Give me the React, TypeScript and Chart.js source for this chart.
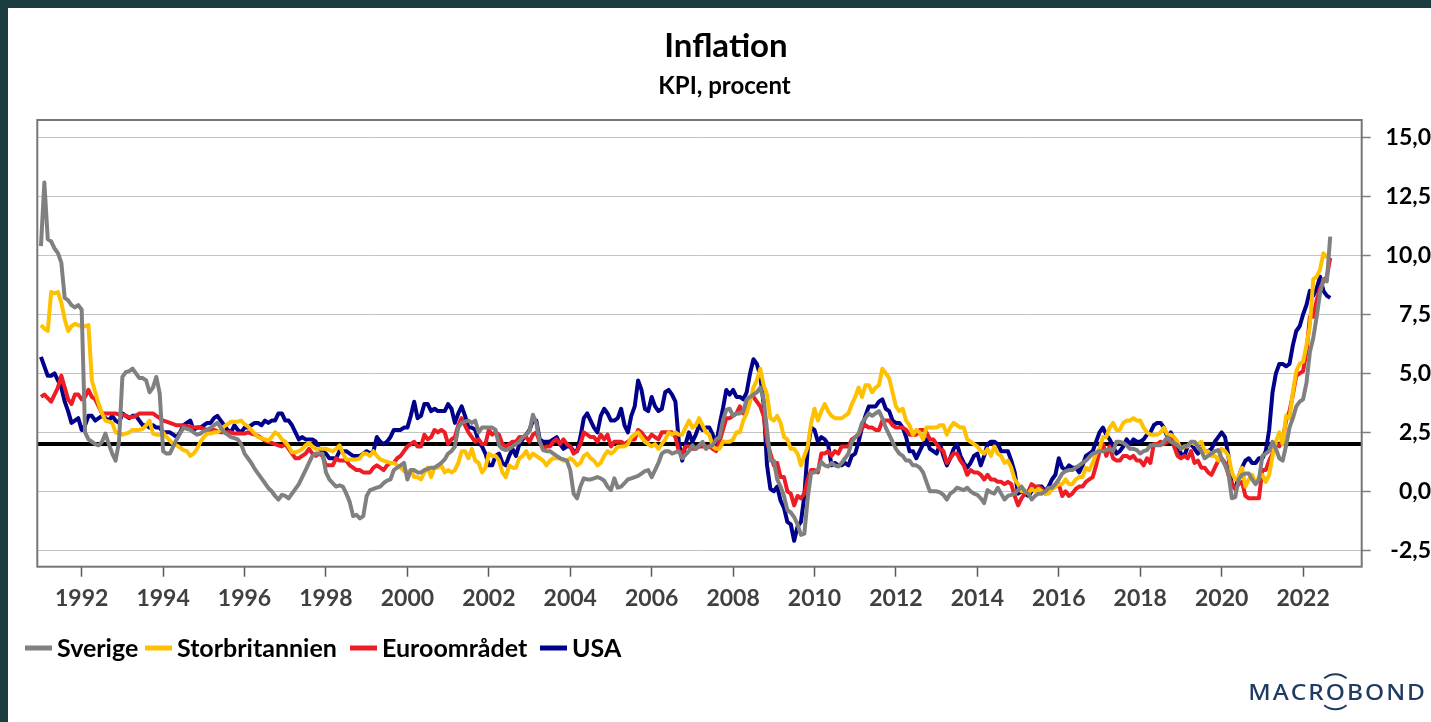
import React, { useEffect, useRef } from "react";
import { Chart, registerables } from "chart.js";

Chart.register(...registerables);

// ---------- Texts ----------
const TITLE = "Inflation";
const SUBTITLE = "KPI, procent";
const LOGO = "MACROBOND";
const SERIES_LABELS = ["Sverige", "Storbritannien", "Euroområdet", "USA"];
const SERIES_COLORS = ["#808080", "#ffc000", "#ee1c25", "#00008b"];

// ---------- Axes ----------
const START_YEAR = 1991; // first monthly observation: Jan 1991
const X_MIN = 1990.91;
const X_MAX = 2023.44;
const Y_MIN = -3.2;
const Y_MAX = 15.75;
const TARGET_LEVEL = 2.0;
const X_TICK_YEARS = [1992, 1994, 1996, 1998, 2000, 2002, 2004, 2006, 2008, 2010, 2012, 2014, 2016, 2018, 2020, 2022];
const Y_TICK_VALUES = [-2.5, 0, 2.5, 5, 7.5, 10, 12.5, 15];

// ---------- Data (monthly, y/y %, Jan 1991 onwards) ----------
const sverige = [
  10.4, 13.1, 10.7, 10.6, 10.3, 10.1, 9.7, 8.2, 8.1, 7.9, 7.8, 7.9,
  7.7, 2.5, 2.2, 2.1, 2.0, 1.95, 2.1, 2.45, 2.0, 1.6, 1.3, 2.1,
  4.85, 5.05, 5.1, 5.2, 5.0, 4.8, 4.8, 4.7, 4.2, 4.4, 4.85, 4.15,
  1.7, 1.6, 1.6, 1.9, 2.2, 2.45, 2.7, 2.65, 2.6, 2.5, 2.4, 2.45,
  2.55, 2.6, 2.7, 2.8, 2.9, 2.7, 2.5, 2.4, 2.3, 2.25, 2.2, 2.0,
  1.6, 1.4, 1.2, 0.95, 0.75, 0.55, 0.35, 0.14, 0.0, -0.2, -0.35, -0.15,
  -0.2, -0.3, -0.1, 0.1, 0.3, 0.6, 0.9, 1.2, 1.5, 1.6, 1.6, 1.6,
  0.8, 0.5, 0.35, 0.2, 0.25, 0.2, -0.1, -0.45, -1.05, -1.0, -1.15, -1.05,
  -0.2, 0.05, 0.1, 0.15, 0.2, 0.35, 0.45, 0.5, 0.9, 1.0, 1.1, 1.2,
  0.5, 0.9, 0.9, 0.8, 0.8, 0.9, 0.95, 1.0, 1.0, 1.1, 1.2, 1.35,
  1.6, 1.7, 1.9, 2.7, 2.9, 2.95, 3.0, 2.9, 3.0, 2.5, 2.7, 2.7,
  2.7, 2.7, 2.6, 1.95, 1.8, 1.75, 1.8, 1.9, 2.0, 2.1, 2.3, 2.4,
  2.55, 3.25, 2.9, 2.1, 1.75, 1.7, 1.7, 1.6, 1.5, 1.4, 1.35, 1.3,
  0.9, -0.1, -0.3, 0.2, 0.55, 0.5, 0.5, 0.55, 0.6, 0.55, 0.45, 0.2,
  0.05, 0.55, 0.15, 0.2, 0.35, 0.5, 0.55, 0.6, 0.65, 0.75, 0.85, 0.9,
  0.6, 0.9, 1.2, 1.6, 1.7, 1.7, 1.6, 1.65, 1.7, 1.4, 1.55, 1.7,
  1.95, 1.8, 1.95, 2.1, 1.8, 1.9, 1.95, 2.2, 2.3, 3.0, 3.45, 3.5,
  3.2, 3.3, 3.3, 3.4, 3.9, 4.0, 4.1, 4.2, 4.4, 3.9, 2.6, 1.3,
  1.3, 0.5, 0.2, -0.2, -0.8, -0.9, -1.1, -1.4, -1.85, -1.8, -0.3, 0.8,
  0.8, 0.9, 1.25, 1.1, 1.05, 1.2, 1.1, 1.05, 1.2, 1.4, 1.6, 2.1,
  2.3, 2.45, 2.9, 3.1, 3.3, 3.2, 3.3, 3.4, 3.1, 2.7, 2.4, 2.1,
  1.8, 1.6, 1.5, 1.3, 1.3, 1.1, 1.1, 1.0, 0.8, 0.4, 0.0, 0.0,
  0.0, -0.05, -0.15, -0.35, -0.1, 0.0, 0.15, 0.1, 0.05, 0.15, 0.0, -0.1,
  -0.15, -0.3, -0.5, 0.05, -0.05, -0.1, 0.15, -0.1, -0.35, -0.2, -0.15, -0.1,
  0.05, 0.2, 0.0, -0.1, -0.35, -0.2, -0.1, -0.1, 0.0, 0.15, 0.15, 0.3,
  0.5, 0.75, 0.85, 0.9, 0.9, 1.0, 1.1, 1.2, 1.3, 1.45, 1.6, 1.65,
  1.7, 1.7, 1.75, 1.8, 1.7, 2.1, 2.1, 2.05, 1.95, 1.8, 1.8, 1.75,
  1.6, 1.7, 1.75, 1.95, 1.95, 1.95, 1.95, 2.1, 2.3, 2.1, 2.05, 1.95,
  1.8, 1.9, 1.95, 2.1, 2.1, 1.9, 1.7, 1.4, 1.5, 1.6, 1.7, 1.75,
  1.4, 1.1, 0.75, -0.3, -0.25, 0.5, 0.7, 0.75, 0.75, 0.5, 0.3, 0.5,
  1.5, 1.6, 1.7, 2.1, 1.8, 1.4, 1.3, 1.95, 2.7, 3.1, 3.6, 3.8,
  3.9, 4.6, 5.9, 6.5, 7.4, 8.4, 9.0, 8.9, 10.8,
];

const storbritannien = [
  7.05, 6.9, 6.8, 8.45, 8.4, 8.45, 8.0, 7.3, 6.8, 7.0, 7.1, 7.05,
  7.0, 7.0, 7.05, 4.7, 4.2, 3.7, 3.3, 3.0, 2.95, 2.9, 2.5, 2.45,
  2.4, 2.45, 2.5, 2.6, 2.6, 2.6, 2.65, 2.8, 3.0, 2.45, 2.4, 2.4,
  2.5, 2.3, 2.15, 2.0, 1.95, 1.85, 1.75, 1.7, 1.5, 1.6, 1.8, 2.1,
  2.3, 2.45, 2.45, 2.5, 2.5, 2.6, 2.75, 2.85, 2.95, 2.95, 2.95, 3.0,
  2.85, 2.75, 2.6, 2.45, 2.3, 2.25, 2.2, 2.15, 2.3, 2.5, 2.4, 2.2,
  2.1, 1.9, 1.65, 1.65, 1.7, 1.8, 1.95, 2.05, 1.9, 1.8, 1.8, 1.8,
  1.8, 1.75, 1.7, 1.8, 1.95, 1.6, 1.35, 1.35, 1.35, 1.35, 1.4, 1.6,
  1.6, 1.5, 1.7, 1.5, 1.35, 1.3, 1.25, 1.2, 1.2, 1.1, 1.0, 0.85,
  0.8, 0.9, 0.6, 0.6, 0.5, 0.8, 1.0, 0.6, 1.0, 1.0, 1.1, 0.8,
  0.9, 0.8, 0.9, 1.2, 1.7, 1.7, 1.4, 1.8, 1.3, 1.2, 0.8, 1.0,
  1.6, 1.5, 1.5, 1.3, 0.8, 0.6, 1.1, 1.0, 1.0, 1.4, 1.5, 1.7,
  1.4, 1.6, 1.5, 1.4, 1.3, 1.1, 1.3, 1.4, 1.4, 1.4, 1.3, 1.3,
  1.4, 1.3, 1.1, 1.2, 1.5, 1.6, 1.4, 1.3, 1.1, 1.2, 1.5, 1.7,
  1.6, 1.7, 1.9, 1.9, 1.9, 2.0, 2.3, 2.4, 2.5, 2.3, 2.1, 2.0,
  1.9, 2.0, 1.8, 2.0, 2.2, 2.5, 2.4, 2.5, 2.4, 2.4, 2.7, 3.0,
  2.7, 2.8, 3.1, 2.8, 2.5, 2.4, 1.9, 1.8, 1.8, 2.1, 2.1, 2.1,
  2.2, 2.5, 2.5, 3.0, 3.3, 3.8, 4.4, 4.7, 5.2, 4.5, 4.1, 3.1,
  3.0, 3.2, 2.9, 2.3, 2.2, 1.8, 1.8, 1.6, 1.1, 1.5, 1.9, 2.9,
  3.5, 3.0, 3.4, 3.7, 3.4, 3.2, 3.1, 3.1, 3.1, 3.2, 3.3, 3.7,
  4.0, 4.4, 4.0, 4.5, 4.5, 4.2, 4.4, 4.5, 5.2, 5.0, 4.8, 4.2,
  3.6, 3.4, 3.5, 3.0, 2.8, 2.4, 2.6, 2.5, 2.2, 2.7, 2.7, 2.7,
  2.7, 2.8, 2.8, 2.4, 2.7, 2.9, 2.8, 2.7, 2.7, 2.2, 2.1, 2.0,
  1.9, 1.7, 1.6, 1.8, 1.5, 1.9, 1.6, 1.5, 1.2, 1.3, 1.0, 0.5,
  0.3, 0.0, 0.0, -0.1, 0.1, 0.0, 0.1, 0.0, -0.1, -0.1, 0.1, 0.2,
  0.3, 0.3, 0.5, 0.3, 0.3, 0.5, 0.6, 0.6, 1.0, 0.9, 1.2, 1.6,
  1.8, 2.3, 2.3, 2.7, 2.9, 2.6, 2.6, 2.9, 3.0, 3.0, 3.1, 3.0,
  3.0, 2.7, 2.5, 2.4, 2.4, 2.4, 2.5, 2.7, 2.4, 2.4, 2.3, 2.1,
  1.8, 1.9, 1.9, 2.1, 2.0, 2.0, 2.1, 1.7, 1.7, 1.5, 1.5, 1.3,
  1.8, 1.7, 1.5, 0.8, 0.5, 0.6, 1.0, 0.2, 0.5, 0.7, 0.3, 0.6,
  0.7, 0.4, 0.7, 1.5, 2.1, 2.5, 2.0, 3.2, 3.1, 4.2, 5.1, 5.4,
  5.5, 6.2, 7.0, 9.0, 9.1, 9.4, 10.1, 9.9,
];

const euroomradet = [
  4.0, 4.1, 3.95, 3.8, 4.1, 4.4, 4.9, 4.4, 3.9, 3.7, 4.1, 4.1,
  3.9, 4.0, 4.3, 4.0, 3.9, 3.6, 3.3, 3.3, 3.3, 3.3, 3.3, 3.25,
  3.25, 3.2, 3.15, 3.15, 3.2, 3.3, 3.3, 3.3, 3.3, 3.3, 3.2, 3.1,
  3.0, 2.95, 2.9, 2.85, 2.8, 2.8, 2.8, 2.75, 2.75, 2.7, 2.7, 2.7,
  2.65, 2.6, 2.6, 2.6, 2.55, 2.5, 2.5, 2.5, 2.5, 2.45, 2.45, 2.45,
  2.45, 2.5, 2.45, 2.4, 2.35, 2.25, 2.15, 2.1, 2.05, 2.0, 1.95, 1.9,
  2.0, 1.8, 1.6, 1.4, 1.4, 1.5, 1.6, 1.8, 1.6, 1.5, 1.6, 1.5,
  1.1, 1.1, 1.1, 1.4, 1.3, 1.3, 1.3, 1.1, 1.0, 0.9, 0.9, 0.8,
  0.8, 0.8, 1.0, 1.1, 1.0, 0.9, 1.1, 1.2, 1.2, 1.4, 1.5, 1.7,
  1.9, 2.0, 2.1, 1.9, 1.9, 2.4, 2.2, 2.3, 2.6, 2.5, 2.6, 2.5,
  2.0, 2.2, 2.3, 2.8, 3.1, 2.8, 2.5, 2.3, 2.1, 2.2, 2.0, 2.0,
  2.6, 2.4, 2.5, 2.4, 2.0, 1.9, 2.0, 2.1, 2.1, 2.3, 2.3, 2.3,
  2.1, 2.4, 2.5, 2.1, 1.8, 1.9, 1.9, 2.1, 2.2, 2.0, 2.2, 2.0,
  1.9, 1.6, 1.7, 2.0, 2.5, 2.4, 2.3, 2.3, 2.1, 2.4, 2.2, 2.4,
  1.9, 2.1, 2.1, 2.1, 2.0, 2.1, 2.2, 2.2, 2.6, 2.5, 2.3, 2.2,
  2.4, 2.3, 2.2, 2.5, 2.5, 2.5, 2.5, 2.3, 1.7, 1.6, 1.9, 1.9,
  1.8, 1.8, 1.9, 1.9, 1.9, 1.9, 1.8, 1.7, 2.1, 2.6, 3.1, 3.1,
  3.2, 3.3, 3.6, 3.3, 3.7, 4.0, 4.0, 3.8, 3.6, 3.2, 2.1, 1.6,
  1.1, 1.2, 0.6, 0.6, 0.0, -0.1, -0.6, -0.2, -0.3, -0.1, 0.5, 0.9,
  0.9, 0.8, 1.6, 1.6, 1.7, 1.5, 1.7, 1.6, 1.9, 1.9, 1.9, 2.2,
  2.3, 2.4, 2.7, 2.8, 2.7, 2.7, 2.6, 2.6, 3.0, 3.0, 3.0, 2.8,
  2.7, 2.7, 2.7, 2.6, 2.4, 2.4, 2.4, 2.6, 2.6, 2.5, 2.2, 2.2,
  2.0, 1.8, 1.7, 1.2, 1.4, 1.6, 1.6, 1.3, 1.1, 0.7, 0.9, 0.8,
  0.8, 0.7, 0.5, 0.7, 0.5, 0.5, 0.4, 0.4, 0.3, 0.4, 0.3, -0.2,
  -0.6, -0.3, -0.1, 0.0, 0.3, 0.2, 0.2, 0.1, -0.1, 0.1, 0.1, 0.2,
  0.3, -0.2, 0.0, -0.2, -0.1, 0.1, 0.2, 0.2, 0.4, 0.5, 0.6, 1.1,
  1.7, 2.0, 1.5, 1.9, 1.4, 1.3, 1.3, 1.5, 1.5, 1.4, 1.5, 1.3,
  1.3, 1.1, 1.4, 1.2, 2.0, 2.0, 2.1, 2.0, 2.1, 2.3, 1.9, 1.5,
  1.4, 1.5, 1.4, 1.7, 1.2, 1.3, 1.0, 1.0, 0.8, 0.7, 1.0, 1.3,
  1.4, 1.2, 0.7, 0.3, 0.1, 0.3, 0.4, -0.2, -0.3, -0.3, -0.3, -0.3,
  0.9, 0.9, 1.3, 1.6, 2.0, 1.9, 2.2, 3.0, 3.4, 4.1, 4.9, 5.0,
  5.1, 5.9, 7.4, 7.4, 8.1, 8.6, 8.9, 9.1, 9.9,
];

const usa = [
  5.7, 5.3, 4.9, 4.9, 5.0, 4.7, 4.4, 3.8, 3.4, 2.9, 3.0, 3.1,
  2.6, 2.8, 3.2, 3.2, 3.0, 3.1, 3.2, 3.1, 3.0, 3.2, 3.0, 2.9,
  3.3, 3.2, 3.1, 3.2, 3.2, 3.0, 2.8, 2.8, 2.7, 2.8, 2.7, 2.7,
  2.5, 2.5, 2.5, 2.4, 2.3, 2.5, 2.8, 2.9, 3.0, 2.6, 2.7, 2.7,
  2.8, 2.9, 2.9, 3.1, 3.2, 3.0, 2.8, 2.6, 2.5, 2.8, 2.6, 2.5,
  2.7, 2.7, 2.8, 2.9, 2.9, 2.8, 3.0, 2.9, 3.0, 3.0, 3.3, 3.3,
  3.0, 3.0, 2.8, 2.5, 2.2, 2.3, 2.2, 2.2, 2.2, 2.1, 1.8, 1.7,
  1.6, 1.4, 1.4, 1.4, 1.7, 1.7, 1.7, 1.6, 1.5, 1.5, 1.5, 1.6,
  1.7, 1.6, 1.7, 2.3, 2.1, 2.0, 2.1, 2.3, 2.6, 2.6, 2.6, 2.7,
  2.7, 3.2, 3.8, 3.1, 3.2, 3.7, 3.7, 3.4, 3.5, 3.4, 3.4, 3.4,
  3.7, 3.5, 2.9, 3.3, 3.6, 3.2, 2.7, 2.7, 2.6, 2.1, 1.9, 1.6,
  1.1, 1.1, 1.5, 1.6, 1.2, 1.1, 1.5, 1.8, 1.5, 2.0, 2.2, 2.4,
  2.6, 3.0, 3.0, 2.2, 2.1, 2.1, 2.1, 2.2, 2.3, 2.0, 1.8, 1.9,
  1.9, 1.7, 1.7, 2.3, 3.1, 3.3, 3.0, 2.7, 2.5, 3.2, 3.5, 3.3,
  3.0, 3.0, 3.1, 3.5, 2.8, 2.5, 3.2, 3.6, 4.7, 4.3, 3.5, 3.4,
  4.0, 3.6, 3.4, 3.5, 4.2, 4.3, 4.1, 3.8, 2.1, 1.3, 2.0, 2.5,
  2.1, 2.4, 2.8, 2.6, 2.7, 2.7, 2.4, 2.0, 2.8, 3.5, 4.3, 4.1,
  4.3, 4.0, 4.0, 3.9, 4.2, 5.0, 5.6, 5.4, 4.9, 3.7, 1.1, 0.1,
  0.0, 0.2, -0.4, -0.7, -1.3, -1.4, -2.1, -1.5, -1.3, -0.2, 1.8, 2.7,
  2.6, 2.1, 2.3, 2.2, 2.0, 1.1, 1.2, 1.1, 1.1, 1.2, 1.1, 1.5,
  1.6, 2.1, 2.7, 3.2, 3.6, 3.6, 3.6, 3.8, 3.9, 3.5, 3.4, 3.0,
  2.9, 2.9, 2.7, 2.3, 1.7, 1.7, 1.4, 1.7, 2.0, 2.2, 1.8, 1.7,
  1.6, 2.0, 1.5, 1.1, 1.4, 1.8, 2.0, 1.5, 1.2, 1.0, 1.2, 1.5,
  1.6, 1.1, 1.5, 2.0, 2.1, 2.1, 2.0, 1.7, 1.7, 1.7, 1.3, 0.8,
  -0.1, 0.0, -0.1, -0.2, 0.0, 0.1, 0.2, 0.2, 0.0, 0.2, 0.5, 0.7,
  1.4, 1.0, 0.9, 1.1, 1.0, 1.0, 0.8, 1.1, 1.5, 1.6, 1.7, 2.1,
  2.5, 2.7, 2.4, 2.2, 1.9, 1.6, 1.7, 1.9, 2.2, 2.0, 2.2, 2.1,
  2.1, 2.2, 2.4, 2.5, 2.8, 2.9, 2.9, 2.7, 2.3, 2.5, 2.2, 1.9,
  1.6, 1.5, 1.9, 2.0, 1.8, 1.6, 1.8, 1.7, 1.7, 1.8, 2.1, 2.3,
  2.5, 2.3, 1.5, 0.3, 0.1, 0.6, 1.0, 1.3, 1.4, 1.2, 1.2, 1.4,
  1.4, 1.7, 2.6, 4.2, 5.0, 5.4, 5.4, 5.3, 5.4, 6.2, 6.8, 7.0,
  7.5, 7.9, 8.5, 8.3, 8.6, 9.1, 8.5, 8.3, 8.2,
];

const SERIES = [sverige, storbritannien, euroomradet, usa];

// ---------- Layout (canvas pixels) ----------
const PAGE_W = 1431;
const PAGE_H = 722;
const FRAME = 8;
const CANVAS_W = PAGE_W - FRAME;
const CANVAS_H = PAGE_H - FRAME;
const FONT = "Lato";
const LEGEND_STARTS = [17, 137, 342, 532];
const LEGEND_TEXT_OFFSET = 32;

const toPoints = (vals: number[]) =>
  vals.map((v, i) => ({ x: START_YEAR + i / 12, y: v }));

const decorPlugin = {
  id: "decor",
  beforeDraw(chart: any) {
    const ctx = chart.ctx;
    ctx.save();
    ctx.fillStyle = "#ffffff";
    ctx.fillRect(0, 0, chart.width, chart.height);
    ctx.restore();
  },
  afterDatasetsDraw(chart: any) {
    const ctx = chart.ctx;
    const { left, top, right, bottom } = chart.chartArea;
    ctx.save();
    ctx.strokeStyle = "#767676";
    ctx.lineWidth = 2;
    ctx.strokeRect(left, top, right - left, bottom - top);
    ctx.restore();
  },
  afterDraw(chart: any) {
    const ctx = chart.ctx;
    ctx.save();
    // Title + subtitle
    ctx.fillStyle = "#000";
    ctx.textAlign = "center";
    ctx.textBaseline = "alphabetic";
    ctx.font = `bold 33px ${FONT}`;
    ctx.fillText(TITLE, 718, 49);
    ctx.font = `bold 24px ${FONT}`;
    ctx.fillText(SUBTITLE, 716.5, 86);

    // Legend
    ctx.font = `bold 25px ${FONT}`;
    ctx.textAlign = "left";
    ctx.textBaseline = "middle";
    SERIES_LABELS.forEach((lab, i) => {
      const x0 = LEGEND_STARTS[i];
      ctx.fillStyle = SERIES_COLORS[i];
      ctx.fillRect(x0, 637.5, 27, 5);
      ctx.fillStyle = "#000";
      ctx.fillText(lab, x0 + LEGEND_TEXT_OFFSET, 641);
    });

    // Logo
    ctx.font = `500 22px "Noto Sans"`;
    ctx.textAlign = "left";
    ctx.textBaseline = "alphabetic";
    const letters = LOGO.split("");
    const widths = letters.map((l) => ctx.measureText(l).width);
    const total = widths.reduce((a, b) => a + b, 0);
    const gap = 2;
    const sx = (176.7 - gap * (letters.length - 1)) / total;
    let x = 1240.3;
    let oCenter = 0;
    ctx.fillStyle = "#1f3b63";
    letters.forEach((l, i) => {
      ctx.save();
      ctx.translate(x, 691.5);
      ctx.scale(sx, 1);
      ctx.fillText(l, 0, 0);
      ctx.restore();
      if (i === 4) oCenter = x + (widths[i] * sx) / 2;
      x += widths[i] * sx + gap;
    });
    ctx.strokeStyle = "#1f3b63";
    ctx.lineWidth = 2;
    ctx.beginPath();
    ctx.arc(oCenter, 683.7, 17.5, -Math.PI * 0.72, -Math.PI * 0.28);
    ctx.stroke();
    ctx.beginPath();
    ctx.arc(oCenter, 683.7, 17.5, Math.PI * 0.28, Math.PI * 0.72);
    ctx.stroke();
    ctx.restore();
  },
};

export default function App() {
  const canvasRef = useRef<HTMLCanvasElement | null>(null);

  useEffect(() => {
    document.documentElement.style.overflow = "hidden";
    document.body.style.margin = "0";
    const canvas = canvasRef.current;
    if (!canvas) return;

    const datasets: any[] = SERIES.map((vals, i) => ({
      label: SERIES_LABELS[i],
      data: toPoints(vals),
      borderColor: SERIES_COLORS[i],
      backgroundColor: SERIES_COLORS[i],
      borderWidth: 4,
      pointRadius: 0,
      tension: 0,
      fill: false,
      borderJoinStyle: "round",
      order: i,
    }));
    datasets.push({
      label: "Mål",
      data: [
        { x: X_MIN, y: TARGET_LEVEL },
        { x: X_MAX, y: TARGET_LEVEL },
      ],
      borderColor: "#000000",
      backgroundColor: "#000000",
      borderWidth: 4,
      pointRadius: 0,
      fill: false,
      order: 10,
    });

    const tickFont = { family: FONT, weight: "bold" as const, size: 23 };

    const chart = new Chart(canvas, {
      type: "line",
      data: { datasets },
      plugins: [decorPlugin],
      options: {
        responsive: false,
        animation: false,
        devicePixelRatio: 1,
        parsing: false,
        normalized: true,
        layout: { padding: { left: 29.3, top: 112, right: 0, bottom: 105.3 } },
        plugins: {
          legend: { display: false },
          title: { display: false },
          tooltip: { enabled: false },
        },
        scales: {
          x: {
            type: "linear",
            position: "bottom",
            min: X_MIN,
            max: X_MAX,
            afterBuildTicks: (s: any) => {
              s.ticks = X_TICK_YEARS.map((v) => ({ value: v }));
            },
            afterFit: (s: any) => {
              s.height = 50;
            },
            ticks: {
              autoSkip: false,
              maxRotation: 0,
              minRotation: 0,
              padding: 8,
              color: "#404040",
              font: tickFont,
              callback: (v: any) => String(v),
            },
            grid: {
              drawOnChartArea: false,
              drawTicks: true,
              tickLength: 10,
              tickColor: "#595959",
              tickWidth: 1.5,
            },
            border: { display: false },
          },
          y: {
            type: "linear",
            position: "right",
            min: Y_MIN,
            max: Y_MAX,
            afterBuildTicks: (s: any) => {
              s.ticks = Y_TICK_VALUES.map((v) => ({ value: v }));
            },
            afterFit: (s: any) => {
              s.width = 69.3;
            },
            ticks: {
              crossAlign: "far",
              padding: 11,
              color: "#000000",
              font: tickFont,
              callback: (v: any) => Number(v).toFixed(1).replace(".", ","),
            },
            grid: {
              color: "#c3c3c3",
              lineWidth: 1,
              drawTicks: true,
              tickLength: 9,
              tickColor: "#808080",
              tickWidth: 1.5,
            },
            border: { display: false },
          },
        },
      } as any,
    });

    return () => chart.destroy();
  }, []);

  return (
    <div
      style={{
        position: "fixed",
        left: 0,
        top: 0,
        width: PAGE_W,
        height: PAGE_H,
        background: "#1a3c40",
        overflow: "hidden",
      }}
    >
      <div
        style={{
          position: "absolute",
          left: FRAME,
          top: FRAME,
          width: CANVAS_W,
          height: CANVAS_H,
          background: "#ffffff",
        }}
      >
        <canvas
          ref={canvasRef}
          width={CANVAS_W}
          height={CANVAS_H}
          style={{ display: "block", width: CANVAS_W, height: CANVAS_H }}
        />
      </div>
    </div>
  );
}
